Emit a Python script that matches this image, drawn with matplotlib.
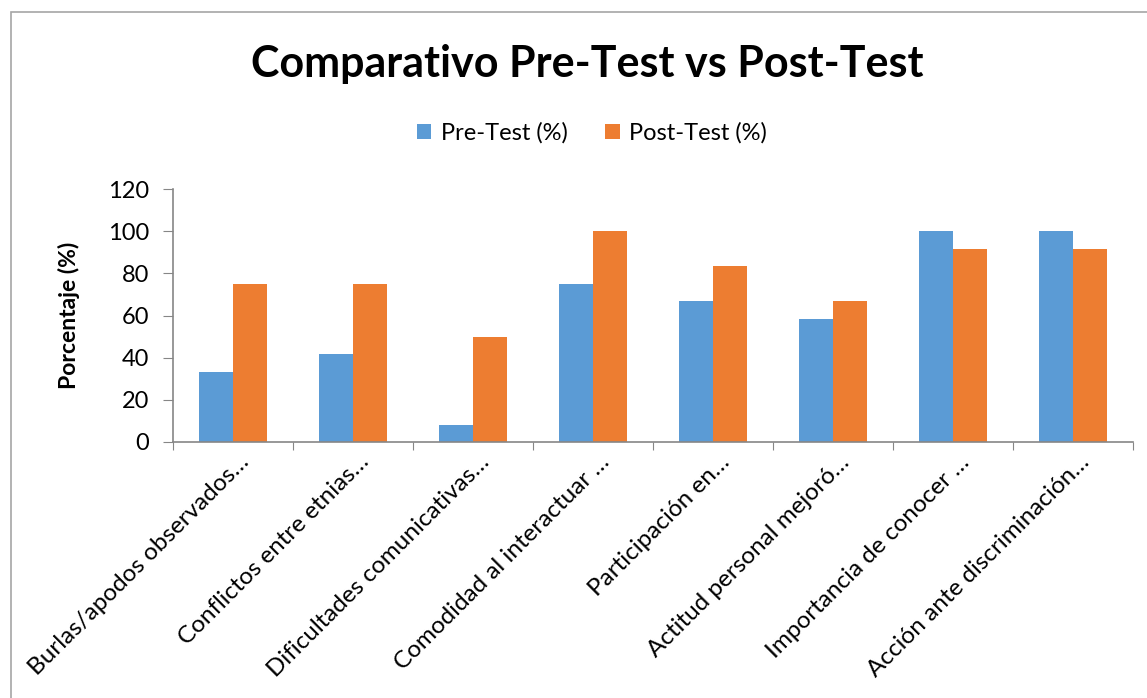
import numpy as np
import matplotlib
matplotlib.use("Agg")
import matplotlib.pyplot as plt
from matplotlib.patches import Rectangle
from matplotlib.transforms import ScaledTranslation

plt.rcParams["font.family"] = ["Lato", "DejaVu Sans"]

# ---- data ----
categories = [
    "Burlas/apodos observados…",
    "Conflictos entre etnias…",
    "Dificultades comunicativas…",
    "Comodidad al interactuar …",
    "Participación en…",
    "Actitud personal mejoró…",
    "Importancia de conocer …",
    "Acción ante discriminación…",
]
pre_test = [33.3, 41.7, 8.3, 75.0, 66.7, 58.3, 100.0, 100.0]
post_test = [75.0, 75.0, 50.0, 100.0, 83.3, 66.7, 91.7, 91.7]
series_names = ["Pre-Test (%)", "Post-Test (%)"]
y_ticks = [0, 20, 40, 60, 80, 100, 120]

BLUE, ORANGE = "#5B9BD5", "#ED7D31"
AXIS_C = "#868686"

fig = plt.figure(figsize=(11.47, 6.98), dpi=100)
W, H = 1147, 698

# chart-area frame (cut off at right / bottom like the reference)
fig.patches.append(Rectangle((11 / W, -0.1), 1.2, 1 - 12 / H + 0.1,
                             transform=fig.transFigure, fill=False,
                             edgecolor="#A6A6A6", linewidth=1.2))

ax = fig.add_axes([173 / W, 1 - 442 / H, 960 / W, 253 / H])

x = np.arange(len(categories))
bw = 0.2857
ax.bar(x - bw / 2, pre_test, bw, color=BLUE, label=series_names[0])
ax.bar(x + bw / 2, post_test, bw, color=ORANGE, label=series_names[1])

ax.set_xlim(-0.5, len(categories) - 0.5)
ax.set_ylim(0, 120)
ax.set_yticks(y_ticks)
ax.tick_params(axis="y", labelsize=17, length=7, color=AXIS_C, pad=10)

# category ticks at the boundaries, labels at the centres
ax.set_xticks(np.arange(len(categories) + 1) - 0.5)
ax.set_xticklabels([])
ax.tick_params(axis="x", length=6, color=AXIS_C)
ax.set_xticks(x, minor=True)
ax.set_xticklabels(categories, minor=True, rotation=45, ha="right",
                   va="center", rotation_mode="anchor", fontsize=17.5)
ax.tick_params(axis="x", which="minor", length=0, pad=12)
shift = ScaledTranslation(0.13, 0, fig.dpi_scale_trans)
for lbl in ax.get_xticklabels(minor=True):
    lbl.set_transform(lbl.get_transform() + shift)

for side in ["top", "right"]:
    ax.spines[side].set_visible(False)
ax.spines["left"].set_color(AXIS_C)
ax.spines["bottom"].set_color(AXIS_C)
ax.spines["left"].set_linewidth(1.2)
ax.spines["bottom"].set_linewidth(1.2)

ax.set_ylabel("Porcentaje (%)", fontsize=16.5, fontweight="bold", labelpad=20)

fig.text(587 / W, 1 - 64 / H, "Comparativo Pre-Test vs Post-Test",
         ha="center", va="center", fontsize=31, fontweight="bold")

fig.legend(loc="center", bbox_to_anchor=(592 / W, 1 - 133 / H), ncol=2,
           frameon=False, fontsize=17, handlelength=0.6, handleheight=0.6,
           handletextpad=0.4, columnspacing=1.6)

fig.savefig("out.png", dpi=100)
